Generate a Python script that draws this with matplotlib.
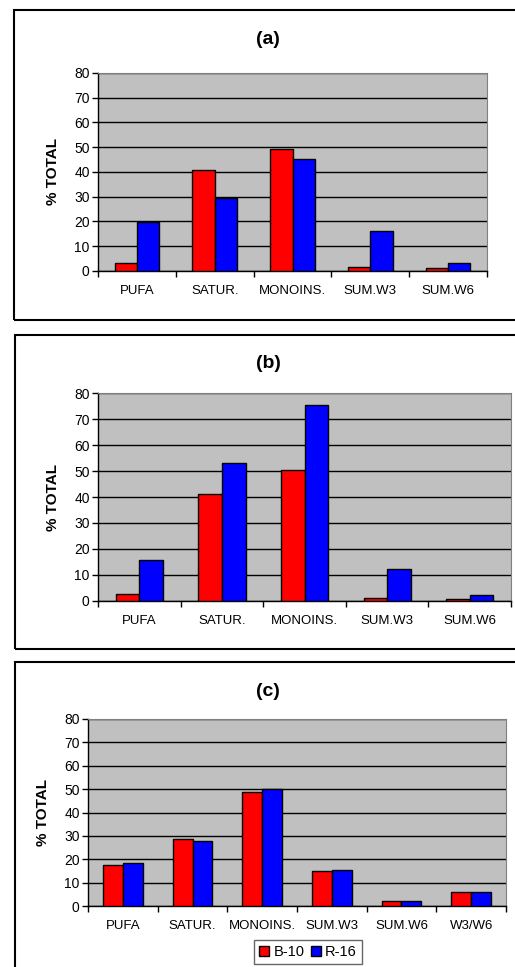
import numpy as np
import matplotlib
matplotlib.use('Agg')
from matplotlib import pyplot as plt
from matplotlib.patches import Rectangle, Patch

plt.rcParams['font.family'] = ['Liberation Sans', 'DejaVu Sans']

cats_ab = ['PUFA', 'SATUR.', 'MONOINS.', 'SUM.W3', 'SUM.W6']
cats_c = ['PUFA', 'SATUR.', 'MONOINS.', 'SUM.W3', 'SUM.W6', 'W3/W6']

b10_a = [3.2, 41.0, 49.3, 1.6, 1.2]
r16_a = [19.9, 29.3, 45.4, 16.2, 3.2]

b10_b = [2.7, 41.2, 50.2, 1.3, 0.6]
r16_b = [15.6, 52.9, 75.5, 12.2, 2.2]

b10_c = [17.7, 28.7, 48.7, 14.9, 2.3, 6.0]
r16_c = [18.3, 27.7, 49.9, 15.4, 2.3, 6.0]

series_names = ['B-10', 'R-16']

W, H = 515, 967
fig = plt.figure(figsize=(W / 100, H / 100), dpi=100)


def px_rect(x0, y0, x1, y1):
    # pixel box (top-left origin) -> figure fraction [l, b, w, h]
    return [x0 / W, 1 - y1 / H, (x1 - x0) / W, (y1 - y0) / H]


def panel_box(x0, y0, x1, y1):
    l, b, w, h = px_rect(x0, y0, x1, y1)
    fig.patches.append(Rectangle((l, b), w, h, transform=fig.transFigure,
                                 fill=False, edgecolor='black', linewidth=1.5))


def draw_panel(ax_px, title, title_y, cats, red, blue):
    ax = fig.add_axes(px_rect(*ax_px))
    n = len(cats)
    x = np.arange(n)
    bw = 1 / 3.5
    ax.set_facecolor('#c0c0c0')
    ax.bar(x - bw / 2, red, bw, color='#ff0000', edgecolor='black',
           linewidth=1, zorder=3)
    ax.bar(x + bw / 2, blue, bw, color='#0000ff', edgecolor='black',
           linewidth=1, zorder=3)
    ax.set_xlim(-0.5, n - 0.5)
    ax.set_ylim(0, 80)
    ax.set_yticks(range(0, 81, 10))
    ax.yaxis.grid(True, color='black', linewidth=1, zorder=1)
    ax.set_axisbelow(True)
    ax.set_xticks(x)
    ax.set_xticklabels(cats, fontsize=9.5)
    ax.set_xticks(np.arange(-0.5, n, 1), minor=True)
    ax.tick_params(axis='x', which='major', length=0, pad=10)
    ax.tick_params(axis='x', which='minor', length=4, width=1, direction='out')
    ax.tick_params(axis='y', length=4, width=1, labelsize=10, pad=2)
    for s in ('top', 'right'):
        ax.spines[s].set_color('#808080')
    for s in ('left', 'bottom'):
        ax.spines[s].set_linewidth(1)
    ax.set_ylabel('% TOTAL', fontsize=11, fontweight='bold', labelpad=10)
    fig.text(268 / W, 1 - title_y / H, title, fontsize=14, fontweight='bold',
             ha='center', va='center')
    return ax


panel_box(14, 10, 530, 320)
draw_panel((98, 73, 487, 271), '(a)', 39, cats_ab, b10_a, r16_a)

panel_box(15, 335, 530, 649)
draw_panel((98, 393, 511, 601), '(b)', 364, cats_ab, b10_b, r16_b)

panel_box(15, 662, 530, 990)
ax_c = draw_panel((88, 719, 506, 906), '(c)', 691, cats_c, b10_c, r16_c)

handles = [Patch(facecolor='#ff0000', edgecolor='black', label=series_names[0]),
           Patch(facecolor='#0000ff', edgecolor='black', label=series_names[1])]
leg = fig.legend(handles=handles, loc='upper center', ncol=2,
                 bbox_to_anchor=(308 / W, 1 - 940 / H), fontsize=10.5,
                 frameon=True, fancybox=False, edgecolor='#404040',
                 handlelength=0.7, handleheight=0.7, handletextpad=0.3,
                 columnspacing=0.4, borderpad=0.35, borderaxespad=0)
leg.get_frame().set_linewidth(1)

fig.savefig('out.png', dpi=100)
